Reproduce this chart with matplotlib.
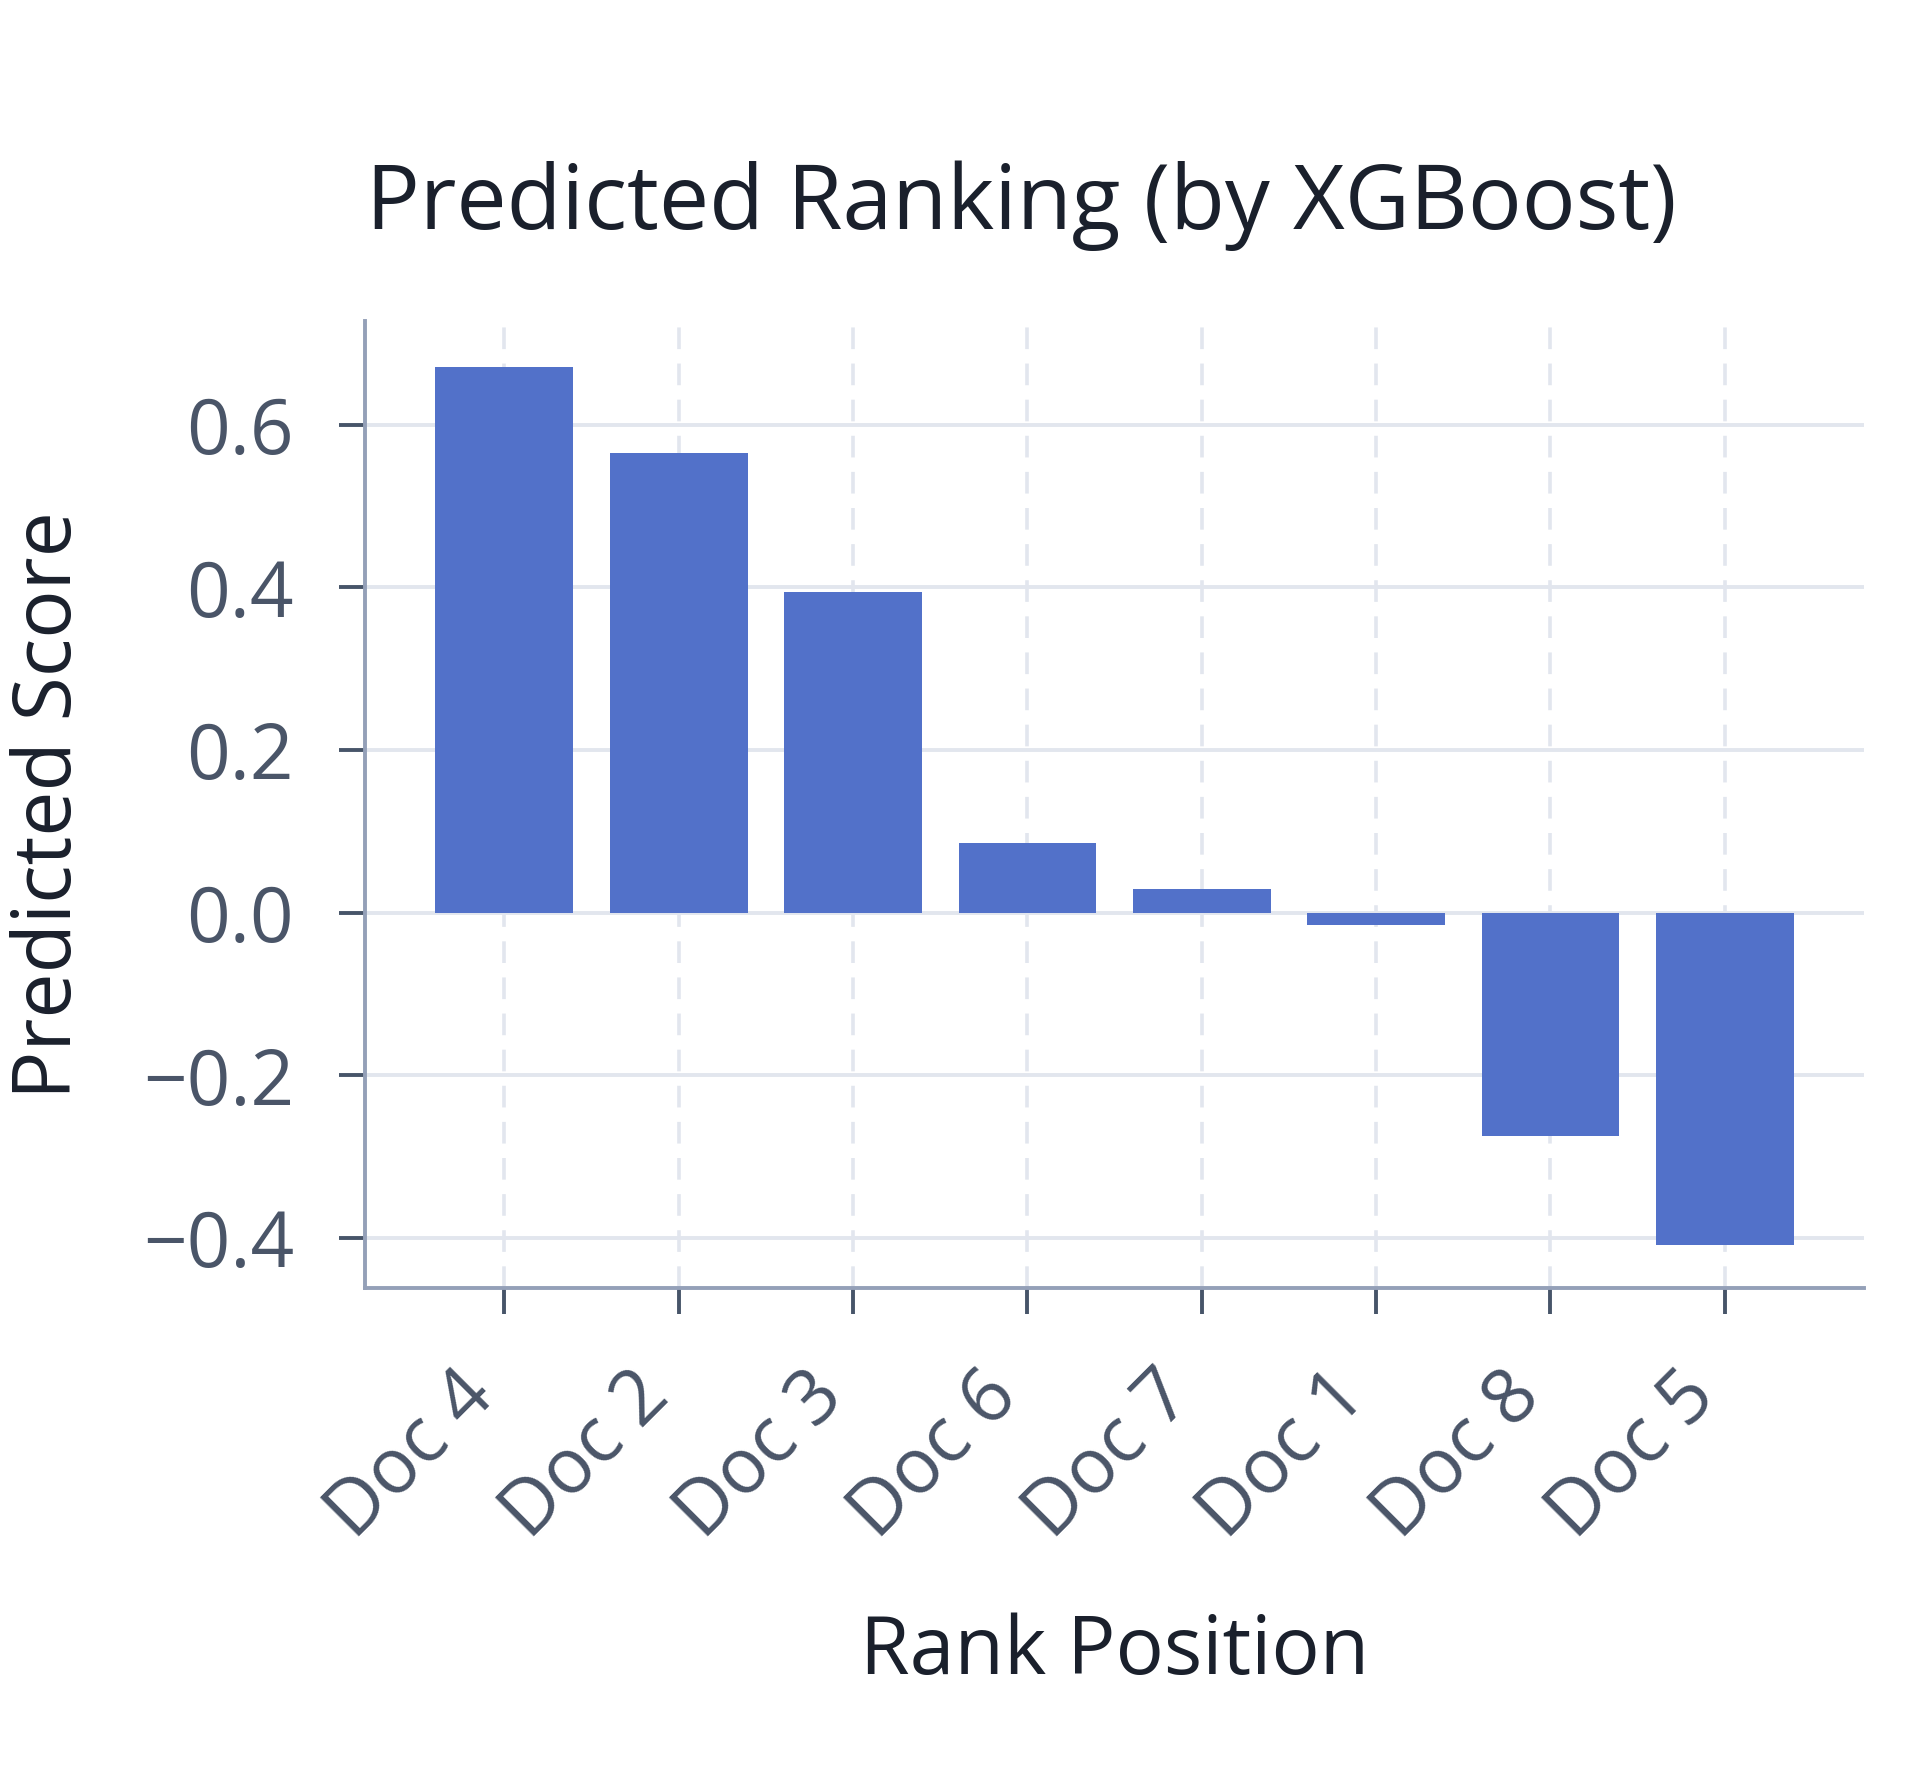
import matplotlib
matplotlib.use("Agg")
import matplotlib.pyplot as plt
import matplotlib.transforms as mtransforms

categories = ["Doc 4", "Doc 2", "Doc 3", "Doc 6", "Doc 7", "Doc 1", "Doc 8", "Doc 5"]
scores = [0.671, 0.565, 0.395, 0.086, 0.029, -0.015, -0.274, -0.408]
yticks = [-0.4, -0.2, 0.0, 0.2, 0.4, 0.6]
ytick_labels = ["\u22120.4", "\u22120.2", "0.0", "0.2", "0.4", "0.6"]

plt.rcParams['font.family'] = ['Open Sans', 'DejaVu Sans']

fig = plt.figure(figsize=(19.2, 17.92), dpi=100)
ax = fig.add_axes([0.190, 0.281, 0.781, 0.540])

x = list(range(len(categories)))
ax.bar(x, scores, width=0.79, color='#5271C9', zorder=3)

ax.set_xlim(-0.8, 7.8)
ax.set_ylim(-0.462, 0.728)
ax.set_yticks(yticks)
ax.set_yticklabels(ytick_labels)
ax.set_xticks(x)
ax.set_xticklabels(categories, rotation=45, ha='right', va='center', rotation_mode='anchor')

ax.grid(axis='y', color='#e2e6ee', linewidth=2.8, zorder=0)
ax.grid(axis='x', color='#e2e6ee', linewidth=2.6, linestyle=(0, (6, 4)), zorder=0)

for s in ['top', 'right']:
    ax.spines[s].set_visible(False)
for s in ['left', 'bottom']:
    ax.spines[s].set_color('#94a0b8')
    ax.spines[s].set_linewidth(2.8)

ax.tick_params(axis='both', which='major', length=19, width=2.8, color='#475569',
               labelcolor='#4a5568', labelsize=55)
ax.tick_params(axis='y', pad=32)
ax.tick_params(axis='x', pad=34)

offset = mtransforms.ScaledTranslation(-15.5 / 72, -16 / 72, fig.dpi_scale_trans)
for lbl in ax.get_xticklabels():
    lbl.set_transform(lbl.get_transform() + offset)

ax.set_ylabel('Predicted Score', fontsize=58, color='#1a202c')
ax.yaxis.set_label_coords(-0.210, 0.5)
ax.yaxis.label.set_va('center')
ax.set_xlabel('Rank Position', fontsize=58, color='#1a202c')
ax.xaxis.set_label_coords(0.5, -0.376)
ax.xaxis.label.set_va('center')

fig.text(0.532, 0.885, 'Predicted Ranking (by XGBoost)', ha='center', va='center',
         fontsize=64.5, color='#1a202c')

fig.savefig('out.png', dpi=100, facecolor='white')
